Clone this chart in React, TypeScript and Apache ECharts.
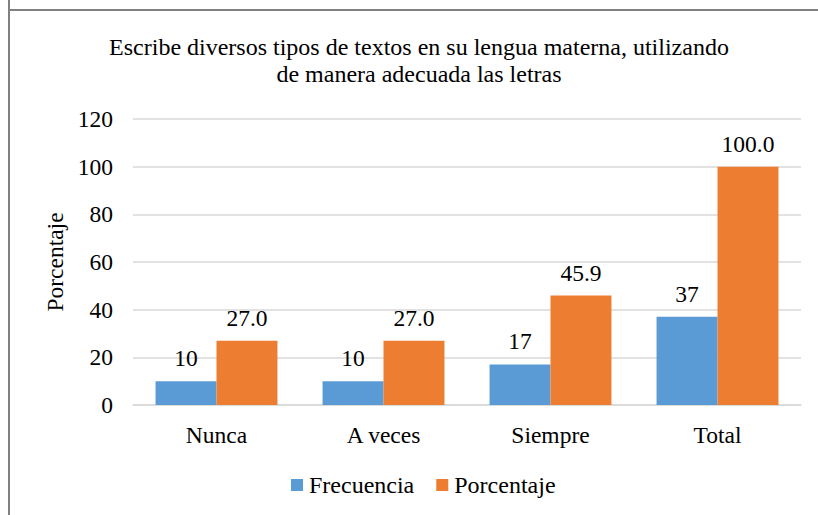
import React, { useEffect, useRef } from "react";
import * as echarts from "echarts";

const categories = ["Nunca", "A veces", "Siempre", "Total"];
const frecuencia = [10, 10, 17, 37];
const porcentaje = [27.0, 27.0, 45.9, 100.0];
const yTicks = { min: 0, max: 120, interval: 20 };
const titleLines = [
  "Escribe diversos tipos de textos en su lengua materna, utilizando",
  "de manera adecuada las letras",
];

const FONT = "'Liberation Serif', 'Times New Roman', serif";
const FS = 23.5;

export default function App() {
  const ref = useRef<HTMLDivElement>(null);
  useEffect(() => {
    if (!ref.current) return;
    const chart = echarts.init(ref.current, null, { renderer: "svg" });
    chart.setOption({
      animation: false,
      backgroundColor: "#ffffff",
      textStyle: { fontFamily: FONT, color: "#000" },
      graphic: [
        {
          type: "line",
          shape: { x1: 9, y1: 0, x2: 9, y2: 515 },
          style: { stroke: "#808080", lineWidth: 2 },
        },
        {
          type: "line",
          shape: { x1: 8, y1: 10, x2: 818, y2: 10 },
          style: { stroke: "#808080", lineWidth: 2 },
        },
        {
          type: "text",
          x: 419,
          y: 33,
          style: {
            text: titleLines.join("\n"),
            fontFamily: FONT,
            fontSize: 24,
            lineHeight: 27,
            fill: "#000",
            textAlign: "center",
            textVerticalAlign: "top",
          },
        },
      ],
      legend: {
        left: 291,
        top: 473,
        padding: 0,
        itemWidth: 12,
        itemHeight: 12,
        itemGap: 22,
        icon: "rect",
        textStyle: { fontFamily: FONT, fontSize: 24, color: "#000", padding: [0, 0, 0, 1] },
        data: ["Frecuencia", "Porcentaje"],
      },
      grid: { left: 133, right: 17, top: 119, bottom: 110, containLabel: false },
      xAxis: {
        type: "category",
        data: categories,
        axisLine: { lineStyle: { color: "#d9d9d9", width: 1.5 } },
        axisTick: { show: false },
        axisLabel: { fontFamily: FONT, fontSize: FS, color: "#000", margin: 18 },
      },
      yAxis: {
        type: "value",
        min: yTicks.min,
        max: yTicks.max,
        interval: yTicks.interval,
        name: "Porcentaje",
        nameLocation: "middle",
        nameGap: 64,
        nameRotate: 90,
        nameTextStyle: { fontFamily: FONT, fontSize: FS, color: "#000" },
        axisLine: { show: false },
        axisTick: { show: false },
        splitLine: { lineStyle: { color: "#d9d9d9", width: 1.5 } },
        axisLabel: { fontFamily: FONT, fontSize: FS, color: "#000", margin: 20 },
      },
      series: [
        {
          name: "Frecuencia",
          type: "bar",
          data: frecuencia,
          barWidth: "36.5%",
          barGap: "0%",
          itemStyle: { color: "#5B9BD5" },
          label: {
            show: true,
            position: "top",
            distance: 11,
            fontFamily: FONT,
            fontSize: FS,
            color: "#000",
          },
        },
        {
          name: "Porcentaje",
          type: "bar",
          data: porcentaje,
          barWidth: "36.5%",
          barGap: "0%",
          itemStyle: { color: "#ED7D31" },
          label: {
            show: true,
            position: "top",
            distance: 11,
            fontFamily: FONT,
            fontSize: FS,
            color: "#000",
            formatter: (p: any) => Number(p.value).toFixed(1),
          },
        },
      ],
    });
    return () => chart.dispose();
  }, []);
  return (
    <div
      ref={ref}
      style={{ position: "fixed", left: 0, top: 0, width: 818, height: 515 }}
    />
  );
}
